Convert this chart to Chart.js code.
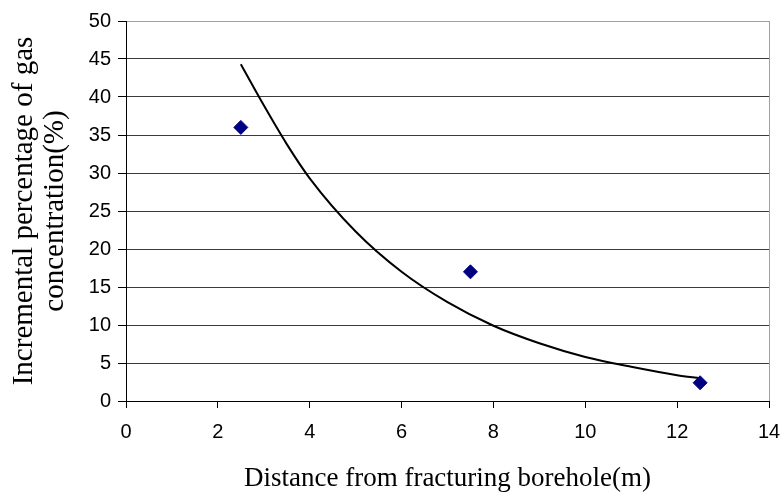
<!DOCTYPE html>
<html>
<head>
<meta charset="utf-8">
<script src="https://cdn.jsdelivr.net/npm/chart.js@4/dist/chart.umd.min.js"></script>
<style>
  html, body { margin: 0; padding: 0; background: #fff; }
  #wrap { width: 783px; height: 495px; position: relative; }
</style>
</head>
<body>
<div id="wrap"><canvas id="c" width="783" height="495"></canvas></div>
<script>
// Measured points
const distance = [2.5, 7.5, 12.5];
const increment = [36, 17, 2.4];
// Trend curve
const trendX = [2.5, 3, 3.5, 4, 5, 6, 7, 8, 9, 10, 11, 12, 12.5];
const trendY = [44.3, 38.9, 33.8, 29.3, 22.3, 17.0, 13.0, 9.9, 7.6, 5.8, 4.5, 3.4, 3.0];
// Axis ticks
const xTicks = [0, 2, 4, 6, 8, 10, 12, 14];
const yTicks = [0, 5, 10, 15, 20, 25, 30, 35, 40, 45, 50];
const xTitle = 'Distance from fracturing borehole(m)';
const yTitle = ['Incremental percentage of gas', 'concentration(%)'];

const frame = {
  id: 'frame',
  afterDatasetsDraw(chart) {
    const a = chart.chartArea, ctx = chart.ctx;
    ctx.save();
    ctx.strokeStyle = '#a0a0a0';
    ctx.lineWidth = 1;
    ctx.beginPath();
    ctx.moveTo(a.right + 0.5, a.top);
    ctx.lineTo(a.right + 0.5, a.bottom);
    ctx.stroke();
    ctx.restore();
  }
};

new Chart(document.getElementById('c'), {
  type: 'scatter',
  data: {
    datasets: [
      {
        label: 'points',
        data: distance.map((x, i) => ({ x, y: increment[i] })),
        pointStyle: 'rectRot',
        pointRadius: 7,
        pointBackgroundColor: '#000080',
        pointBorderColor: '#000080',
        borderWidth: 1,
        showLine: false,
        order: 0
      },
      {
        label: 'trend',
        data: trendX.map((x, i) => ({ x, y: trendY[i] })),
        showLine: true,
        borderColor: '#000',
        borderWidth: 2,
        pointRadius: 0,
        cubicInterpolationMode: 'monotone',
        order: 1
      }
    ]
  },
  options: {
    responsive: false,
    animation: false,
    devicePixelRatio: 1,
    layout: { padding: { top: 21, right: 14, left: 0, bottom: 0 } },
    plugins: { legend: { display: false }, tooltip: { enabled: false } },
    scales: {
      x: {
        type: 'linear',
        min: 0, max: 14,
        afterBuildTicks: s => { s.ticks = xTicks.map(v => ({ value: v })); },
        afterFit: s => { s.height = 94; s.paddingRight = 0; s.paddingLeft = 0; },
        ticks: { color: '#000', font: { family: 'Liberation Sans', size: 20 }, padding: 12, maxRotation: 0 },
        grid: { drawOnChartArea: false, drawTicks: true, tickLength: 7, color: '#000', tickColor: '#000' },
        border: { color: '#000', width: 1 },
        title: { display: true, text: xTitle, color: '#000', font: { family: 'Liberation Serif', size: 27 }, padding: { top: 4, bottom: 0 } }
      },
      y: {
        type: 'linear',
        min: 0, max: 50,
        afterBuildTicks: s => { s.ticks = yTicks.map(v => ({ value: v })); },
        afterFit: s => { s.width = 126; s.paddingTop = 0; s.paddingBottom = 0; },
        ticks: { color: '#000', font: { family: 'Liberation Sans', size: 20 }, padding: 7 },
        grid: {
          drawTicks: true, tickLength: 8,
          color: ctx => (ctx.tick && ctx.tick.value === 50) ? '#a0a0a0' : '#3a3a3a',
          tickColor: '#000'
        },
        border: { color: '#000', width: 1 },
        title: { display: true, text: yTitle, color: '#000', font: { family: 'Liberation Serif', size: 29, lineHeight: 1.1 }, padding: { top: 8, bottom: 0 } }
      }
    }
  },
  plugins: [frame]
});
</script>
</body>
</html>
